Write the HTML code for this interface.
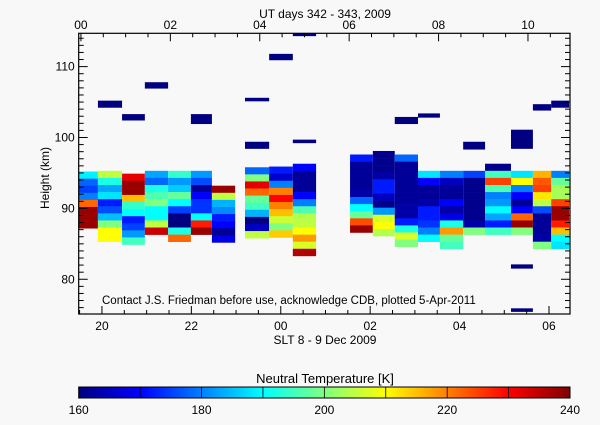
<!DOCTYPE html>
<html><head><meta charset="utf-8"><style>
html,body{margin:0;padding:0;background:#f8f8f8;}
svg text{font-family:"Liberation Sans",sans-serif;fill:#000;}
</style></head><body>
<svg id="chart" width="600" height="420" viewBox="0 0 600 420" xmlns="http://www.w3.org/2000/svg">
<rect x="0" y="0" width="600" height="420" fill="#f8f8f8"/>
<g id="cells"></g>
<g id="axes"></g>
<text x="325" y="18" font-size="12" text-anchor="middle">UT days 342 - 343, 2009</text>
<text x="325" y="344" font-size="12" text-anchor="middle">SLT 8 - 9 Dec 2009</text>
<text x="0" y="0" font-size="12" text-anchor="middle" transform="translate(49,178) rotate(-90)">Height (km)</text>
<text x="102" y="304" font-size="11.5">Contact J.S. Friedman before use, acknowledge CDB, plotted 5-Apr-2011</text>
<text x="325" y="383" font-size="13" text-anchor="middle">Neutral Temperature [K]</text>
<g id="cbar"></g>
</svg>
<script>
// Column time ranges (UT hours), top altitude (km), and 1-km cell temperatures (K) from top down
const colStart = [-0.05,0.38,0.92,1.43,1.95,2.46,2.93,3.67,4.21,4.74,6.02,6.53,7.02,7.54,8.03,8.55,9.04,9.62,10.11,10.52];
const colEnd   = [0.38,0.92,1.43,1.95,2.46,2.93,3.45,4.21,4.74,5.26,6.53,7.02,7.54,8.03,8.55,9.04,9.62,10.11,10.52,10.92];
const colTop   = [95.2,95.3,94.9,95.3,95.3,95.3,93.2,95.8,95.9,96.3,97.6,98.1,97.6,95.3,95.3,95.3,96.3,95.3,95.3,95.3];
const colValues = [
 [189,178,175,180,222,238,238,238],
 [205,192,183,188,172,176,185,200,210,210],
 [232,238,238,215,194,190,172,175,182,195],
 [183,178,192,196,200,190,190,205,234],
 [194,182,186,198,190,175,160,160,192,222],
 [182,176,162,170,174,174,190,228,238],
 [238,205,184,181,172,170,162,168],
 [178,200,232,222,198,195,184,160,165,205],
 [172,166,180,220,230,220,215,206,200,214],
 [170,162,162,162,170,180,196,204,205,210,218,207,236],
 [172,162,162,162,162,163,178,190,198,224,238],
 [161,161,161,163,172,172,165,161,182,207,210,204],
 [178,162,162,162,162,162,162,163,163,172,192,207,200],
 [188,170,162,162,163,172,172,174,180,190],
 [180,165,162,162,170,163,168,192,218,198,195],
 [175,161,161,161,161,161,161,163,200],
 [161,195,225,196,180,182,190,183,172,195],
 [188,210,180,170,162,170,222,238,200],
 [216,223,225,212,205,176,162,162,162,163,200],
 [180,198,203,203,225,238,238,228,215,190,188]
];
// Isolated blocks
const barStart  = [0.38,0.92,1.43,2.46,3.67,3.67,4.21,4.74,4.74,7.02,7.54,8.55,9.62,10.11,10.52,9.62,9.62];
const barEnd    = [0.92,1.43,1.95,2.93,4.21,4.21,4.74,5.26,5.26,7.54,8.03,9.04,10.11,10.52,10.92,10.11,10.11];
const barTop    = [105.2,103.3,107.8,103.3,105.6,99.4,111.8,114.7,99.7,102.9,103.4,99.4,101.1,104.7,105.2,82.1,75.9];
const barBottom = [104.2,102.4,106.9,101.9,105.1,98.4,110.9,114.3,99.2,101.9,102.8,98.3,98.4,103.8,104.2,81.5,75.4];
const barValue  = [160,160,160,160,160,160,160,160,160,160,160,160,160,160,160,160,160];
// Axis ticks
const heightTicks = [80,90,100,110];
const utTicks = ["00","02","04","06","08","10"];
const sltTicks = ["20","22","00","02","04","06"];
const cbarTicks = [160,180,200,220,240];

const NS="http://www.w3.org/2000/svg";
const X0=78.7, X1=570, Y0=33.3, Y1=314;
const UTMIN=-0.05, UTMAX=10.94, HMIN=75.1, HMAX=114.7;
const SLTOFF=19.53;
const TMIN=160, TMAX=240;
function xs(t){return X0+(t-UTMIN)/(UTMAX-UTMIN)*(X1-X0);}
function ys(h){return Y1-(h-HMIN)/(HMAX-HMIN)*(Y1-Y0);}
function cl(v){return Math.max(0,Math.min(1,v));}
function jet(T){const t=cl((T-TMIN)/(TMAX-TMIN));
 const r=cl(1.5-Math.abs(4*t-3)),g=cl(1.5-Math.abs(4*t-2)),b=cl(1.5-Math.abs(4*t-1));
 return `rgb(${Math.round(r*255)},${Math.round(g*255)},${Math.round(b*255)})`;}
function mk(tag,attrs,parent){const e=document.createElementNS(NS,tag);for(const k in attrs)e.setAttribute(k,attrs[k]);parent.appendChild(e);return e;}

const cells=document.getElementById('cells');
colValues.forEach((vals,i)=>{
 vals.forEach((v,j)=>{
  const top=colTop[i]-j, bot=colTop[i]-j-1;
  const r=mk('rect',{x:xs(colStart[i]).toFixed(2),y:ys(top).toFixed(2),width:(xs(colEnd[i])-xs(colStart[i])).toFixed(2),height:(ys(bot)-ys(top)+0.3).toFixed(2),fill:jet(v)},cells);
  
  
 });
});
barStart.forEach((s,i)=>{
 const top=Math.min(barTop[i],HMAX);
 const r=mk('rect',{x:xs(s).toFixed(2),y:ys(top).toFixed(2),width:(xs(barEnd[i])-xs(s)).toFixed(2),height:(ys(barBottom[i])-ys(top)).toFixed(2),fill:jet(barValue[i])},cells);
 
 
});

const ax=document.getElementById('axes');
const frame=mk('rect',{x:X0,y:Y0,width:X1-X0,height:Y1-Y0,fill:'none',stroke:'#000','stroke-width':1.2},ax);


// y ticks every 1 km
for(let h=76;h<=114;h++){
 const y=ys(h), L=(h%10===0)?9:5;
 mk('line',{x1:X0,y1:y,x2:X0+L,y2:y,stroke:'#000'},ax);
 mk('line',{x1:X1,y1:y,x2:X1-L,y2:y,stroke:'#000'},ax);
}
heightTicks.forEach(h=>{
 const t=mk('text',{x:X0-4,y:ys(h)+4,'font-size':12,'text-anchor':'end'},ax);t.textContent=h;
 
 
});
// x ticks every 0.5h
for(let u=0;u<=10.9;u+=0.5){
 const x=xs(u), L=(u%2===0)?8:4;
 mk('line',{x1:x,y1:Y0,x2:x,y2:Y0+L,stroke:'#000'},ax);
}
for(let s=19.5;s<=30.4;s+=0.5){
 const x=xs(s-SLTOFF), L=(s%2===0)?8:4;
 if(x<X0||x>X1)continue;
 mk('line',{x1:x,y1:Y1,x2:x,y2:Y1-L,stroke:'#000'},ax);
}
utTicks.forEach(lbl=>{
 const t=mk('text',{x:xs(+lbl),y:29,'font-size':12,'text-anchor':'middle'},ax);t.textContent=lbl;
 
 
});
sltTicks.forEach(lbl=>{
 let s=+lbl; if(s<12)s+=24;
 const t=mk('text',{x:xs(s-SLTOFF),y:330,'font-size':12,'text-anchor':'middle'},ax);t.textContent=lbl;
 
 
});

// colorbar
const cb=document.getElementById('cbar');
const CX0=78.7,CX1=570,CY0=387,CY1=398;
const defs=mk('defs',{},cb);
const grad=mk('linearGradient',{id:'jetg',x1:0,x2:1,y1:0,y2:0},defs);
for(let k=0;k<=16;k++){mk('stop',{offset:k/16,'stop-color':jet(TMIN+k*(TMAX-TMIN)/16)},grad);}
const cr=mk('rect',{x:CX0,y:CY0,width:CX1-CX0,height:CY1-CY0,fill:'url(#jetg)',stroke:'#000','stroke-width':1},cb);


function cxs(T){return CX0+(T-TMIN)/(TMAX-TMIN)*(CX1-CX0);}
for(let T=170;T<240;T+=10){mk('line',{x1:cxs(T),y1:CY0,x2:cxs(T),y2:CY1,stroke:'#000','stroke-width':0.8},cb);}
cbarTicks.forEach(T=>{
 const t=mk('text',{x:cxs(T),y:414,'font-size':12,'text-anchor':'middle'},cb);t.textContent=T;
 
 
});
</script>
</body></html>
